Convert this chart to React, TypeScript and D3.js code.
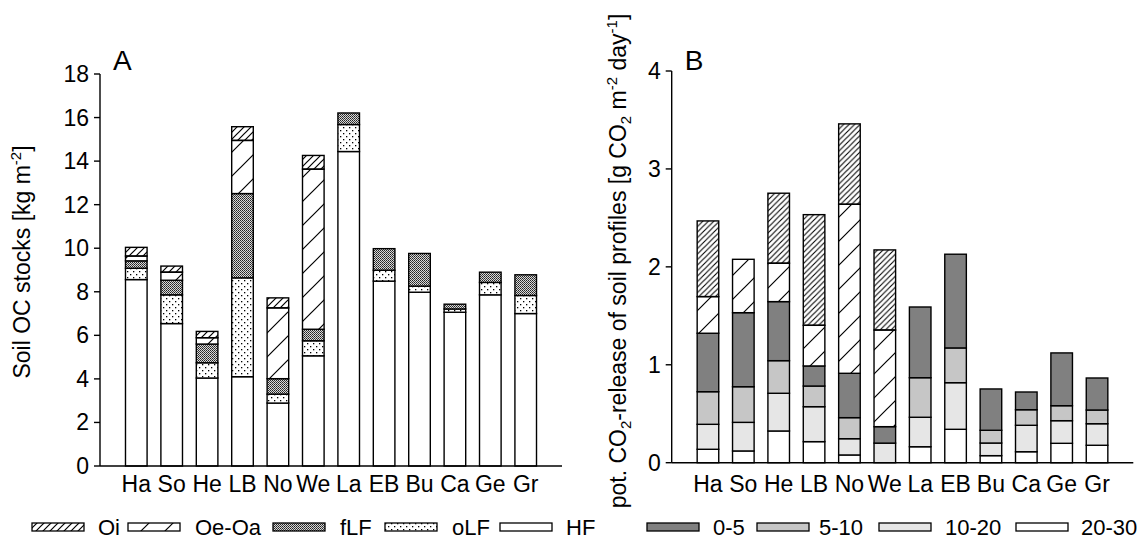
import React from "react";
import * as d3 from "d3";

const sites = ["Ha", "So", "He", "LB", "No", "We", "La", "EB", "Bu", "Ca", "Ge", "Gr"];

// Panel A: soil OC stocks [kg m-2]
const hfA = [8.56, 6.54, 4.04, 4.1, 2.89, 5.06, 14.44, 8.49, 7.98, 7.06, 7.86, 7.0];
const olfA = [0.52, 1.32, 0.7, 4.54, 0.41, 0.69, 1.24, 0.5, 0.28, 0.15, 0.57, 0.83];
const flfA = [0.34, 0.67, 0.86, 3.87, 0.71, 0.53, 0.53, 0.99, 1.5, 0.22, 0.47, 0.95];
const oeoaA = [0.22, 0.37, 0.29, 2.44, 3.25, 7.35, 0, 0, 0, 0, 0, 0];
const oiA = [0.4, 0.28, 0.29, 0.63, 0.46, 0.63, 0, 0, 0, 0, 0, 0];
const ticksA = [0, 2, 4, 6, 8, 10, 12, 14, 16, 18];

// Panel B: pot. CO2 release
const d2030 = [0.137, 0.12, 0.324, 0.215, 0.079, 0, 0.163, 0.341, 0.072, 0.112, 0.198, 0.178];
const d1020 = [0.255, 0.292, 0.385, 0.357, 0.166, 0.2, 0.301, 0.476, 0.129, 0.27, 0.231, 0.22];
const d510 = [0.333, 0.364, 0.333, 0.211, 0.215, 0, 0.404, 0.355, 0.13, 0.159, 0.153, 0.14];
const d05 = [0.597, 0.756, 0.603, 0.205, 0.453, 0.168, 0.722, 0.957, 0.422, 0.181, 0.539, 0.327];
const oeoaB = [0.374, 0.545, 0.392, 0.415, 1.726, 0.987, 0, 0, 0, 0, 0, 0];
const oiB = [0.773, 0, 0.715, 1.13, 0.821, 0.818, 0, 0, 0, 0, 0, 0];
const ticksB = [0, 1, 2, 3, 4];

const keysA = ["HF", "oLF", "fLF", "Oe-Oa", "Oi"];
const fillsA: Record<string, string> = {
  HF: "#ffffff",
  oLF: "url(#pOLF)",
  fLF: "url(#pFLF)",
  "Oe-Oa": "url(#pOEOA)",
  Oi: "url(#pOIA)",
};
const keysB = ["20-30", "10-20", "5-10", "0-5", "Oe-Oa", "Oi"];
const fillsB: Record<string, string> = {
  "20-30": "#ffffff",
  "10-20": "#e6e6e6",
  "5-10": "#c6c6c6",
  "0-5": "#808080",
  "Oe-Oa": "url(#pOEOA)",
  Oi: "url(#pOI)",
};

const FONT = "'Liberation Sans', Arial, sans-serif";
const FS = 23;
const LFS = 22;

const rowsA = sites.map((s, i) => ({
  site: s,
  HF: hfA[i],
  oLF: olfA[i],
  fLF: flfA[i],
  "Oe-Oa": oeoaA[i],
  Oi: oiA[i],
}));
const rowsB = sites.map((s, i) => ({
  site: s,
  "20-30": d2030[i],
  "10-20": d1020[i],
  "5-10": d510[i],
  "0-5": d05[i],
  "Oe-Oa": oeoaB[i],
  Oi: oiB[i],
}));

function Panel(props: {
  rows: any[];
  keys: string[];
  fills: Record<string, string>;
  x0: number;
  x1: number;
  yBottom: number;
  yTop: number;
  yMax: number;
  ticks: number[];
  letter: string;
}) {
  const { rows, keys, fills, x0, x1, yBottom, yTop, yMax, ticks, letter } = props;
  const x = d3.scaleBand<string>().domain(sites).range([x0, x1]).paddingInner(0.39).paddingOuter(0.72);
  const y = d3.scaleLinear().domain([0, yMax]).range([yBottom, yTop]);
  const series = d3.stack<any>().keys(keys)(rows);
  return (
    <g>
      {series.map((s) => (
        <g key={s.key}>
          {s.map((d, i) => {
            const h = y(d[0]) - y(d[1]);
            if (h <= 0.01) return null;
            return (
              <rect
                key={i}
                x={x(sites[i])!}
                y={y(d[1])}
                width={x.bandwidth()}
                height={h}
                fill={fills[s.key]}
                stroke="#000"
                strokeWidth={1.4}
              />
            );
          })}
        </g>
      ))}
      {/* y axis */}
      <line x1={x0} x2={x0} y1={y(0)} y2={y(yMax)} stroke="#000" strokeWidth={1.4} />
      {ticks.map((t) => (
        <g key={t}>
          <line x1={x0 - 6} x2={x0} y1={y(t)} y2={y(t)} stroke="#000" strokeWidth={1.4} />
          <text x={x0 - 11} y={y(t) + 8} textAnchor="end" fontSize={FS} fontFamily={FONT} fill="#000">
            {t}
          </text>
        </g>
      ))}
      {/* x axis */}
      <line x1={x0} x2={x1} y1={y(0)} y2={y(0)} stroke="#000" strokeWidth={1.4} />
      {sites.map((s) => (
        <text
          key={s}
          x={x(s)! + x.bandwidth() / 2}
          y={492}
          textAnchor="middle"
          fontSize={FS}
          fontFamily={FONT}
          fill="#000"
        >
          {s}
        </text>
      ))}
      <text x={x0 + 13} y={70} fontSize={28} fontFamily={FONT} fill="#000">
        {letter}
      </text>
    </g>
  );
}

function LegendItem(props: { x: number; tx: number; fill: string; label: string }) {
  return (
    <g>
      <rect x={props.x} y={523} width={52} height={8} fill={props.fill} stroke="#000" strokeWidth={1.3} />
      <text x={props.tx} y={535} fontSize={LFS} fontFamily={FONT} fill="#000">
        {props.label}
      </text>
    </g>
  );
}

const legendA = [
  { label: "Oi", x: 32, tx: 98 },
  { label: "Oe-Oa", x: 128, tx: 195 },
  { label: "fLF", x: 273, tx: 340 },
  { label: "oLF", x: 385, tx: 452 },
  { label: "HF", x: 500, tx: 566 },
];
const legendB = [
  { label: "0-5", x: 647, tx: 713 },
  { label: "5-10", x: 757, tx: 819 },
  { label: "10-20", x: 879, tx: 945 },
  { label: "20-30", x: 1016, tx: 1081 },
];

export default function App() {
  return (
    <svg
      width={1144}
      height={543}
      style={{ position: "absolute", left: 0, top: 0, background: "#fff" }}
    >
      <defs>
        <pattern id="pOI" patternUnits="userSpaceOnUse" width={5.5} height={5.5}>
          <path d="M0,5.5 L5.5,0 M-1,1 L1,-1 M4.5,6.5 L6.5,4.5" stroke="#000" strokeWidth={1.1} />
        </pattern>
        <pattern id="pOIA" patternUnits="userSpaceOnUse" width={7} height={7}>
          <path d="M0,7 L7,0 M-1,1 L1,-1 M6,8 L8,6" stroke="#000" strokeWidth={1.2} />
        </pattern>
        <pattern id="pOEOA" patternUnits="userSpaceOnUse" width={24} height={24}>
          <rect width={24} height={24} fill="#fff" />
          <path d="M0,24 L24,0 M-2,2 L2,-2 M22,26 L26,22" stroke="#000" strokeWidth={1.2} />
        </pattern>
        <pattern id="pFLF" patternUnits="userSpaceOnUse" width={2} height={2}>
          <rect width={2} height={2} fill="#d8d8d8" />
          <rect x={0} y={0} width={1} height={1} fill="#222" />
          <rect x={1} y={1} width={1} height={1} fill="#444" />
        </pattern>
        <pattern id="pOLF" patternUnits="userSpaceOnUse" width={6} height={6}>
          <rect width={6} height={6} fill="#fff" />
          <rect x={1} y={1} width={1.3} height={1.3} fill="#000" />
          <rect x={4} y={4} width={1.3} height={1.3} fill="#000" />
        </pattern>
      </defs>

      <Panel
        rows={rowsA}
        keys={keysA}
        fills={fillsA}
        x0={100}
        x1={562}
        yBottom={466}
        yTop={74}
        yMax={18}
        ticks={ticksA}
        letter="A"
      />
      <Panel
        rows={rowsB}
        keys={keysB}
        fills={fillsB}
        x0={671.7}
        x1={1133.3}
        yBottom={462.7}
        yTop={71}
        yMax={4}
        ticks={ticksB}
        letter="B"
      />

      {/* Axis titles */}
      <text
        transform="translate(30,262) rotate(-90)"
        textAnchor="middle"
        fontSize={FS}
        fontFamily={FONT}
        fill="#000"
      >
        Soil OC stocks [kg m
        <tspan dy={-9} fontSize={15}>-2</tspan>
        <tspan dy={9}>]</tspan>
      </text>
      <text
        transform="translate(626,261) rotate(-90)"
        textAnchor="middle"
        fontSize={FS}
        fontFamily={FONT}
        fill="#000"
      >
        pot. CO
        <tspan dy={5} fontSize={15}>2</tspan>
        <tspan dy={-5}>-release of soil profiles [g CO</tspan>
        <tspan dy={5} fontSize={15}>2</tspan>
        <tspan dy={-5}> m</tspan>
        <tspan dy={-9} fontSize={15}>-2</tspan>
        <tspan dy={9}> day</tspan>
        <tspan dy={-9} fontSize={15}>-1</tspan>
        <tspan dy={9}>]</tspan>
      </text>

      {legendA.map((l) => (
        <LegendItem key={l.label} x={l.x} tx={l.tx} fill={fillsA[l.label]} label={l.label} />
      ))}
      {legendB.map((l) => (
        <LegendItem key={l.label} x={l.x} tx={l.tx} fill={fillsB[l.label]} label={l.label} />
      ))}
    </svg>
  );
}
